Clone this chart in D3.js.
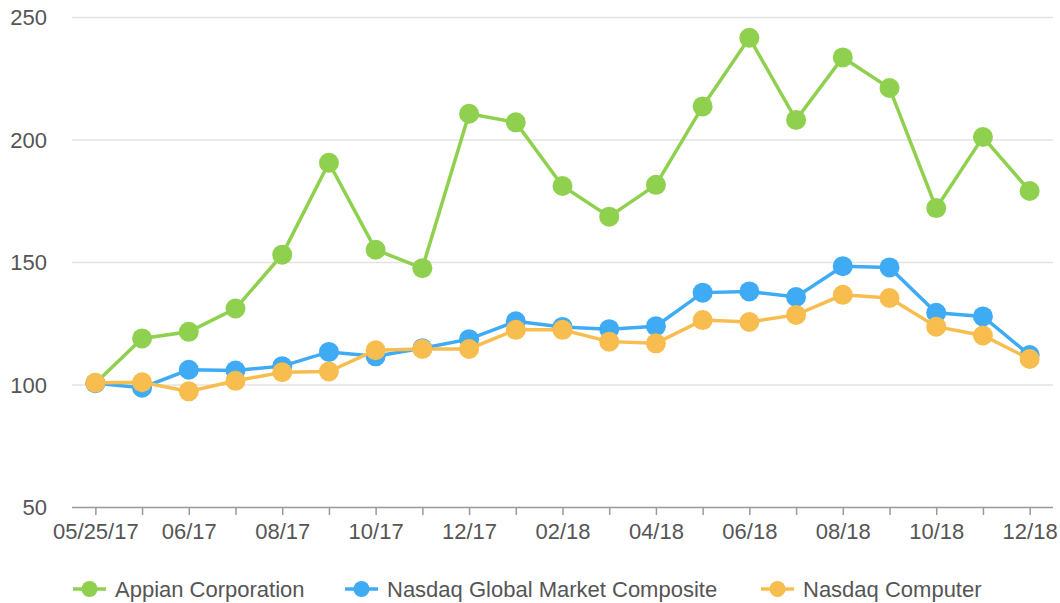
<!DOCTYPE html>
<html>
<head>
<meta charset="utf-8">
<script src="https://cdn.jsdelivr.net/npm/d3@7"></script>
<style>
  body { margin: 0; background: #fff; }
  svg text { font-family: "Liberation Sans", Arial, sans-serif; fill: #555; }
</style>
</head>
<body>
<svg width="1060" height="603"></svg>
<script>

// fechas del eje (una por punto)
let fechas = ['05/25/17','05/31/17','06/30/17','07/31/17','08/31/17','09/30/17','10/31/17',
              '11/30/17','12/31/17','01/31/18','02/28/18','03/31/18','04/30/18','05/31/18',
              '06/30/18','07/31/18','08/31/18','09/30/18','10/31/18','11/30/18','12/31/18']

let etiquetas = ['05/25/17','','06/17','','08/17','','10/17','','12/17','','02/18','',
                 '04/18','','06/18','','08/18','','10/18','','12/18']

let appian = [100.5, 118.8, 121.5, 131, 153, 190.5, 155, 147.5, 210.5, 207, 181, 168.5,
              181.5, 213.5, 241.5, 208, 233.5, 221, 172, 201, 179]
let nasdaqGlobal = [100.5, 98.7, 106, 105.7, 107.5, 113.3, 111.5, 114.8, 118.5, 125.8, 123.5, 122.6,
                    123.8, 137.5, 138, 135.7, 148.3, 147.8, 129.3, 127.8, 112]
let nasdaqComputer = [100.7, 100.9, 97.2, 101.5, 105, 105.3, 114, 114.5, 114.5, 122.3, 122.3, 117.5,
                      116.8, 126.3, 125.5, 128.4, 136.6, 135.3, 123.6, 120, 110.4]

let yTicks = [50, 100, 150, 200, 250]

let series = [
  {nombre: 'Appian Corporation', valores: appian, color: '#8fd14f'},
  {nombre: 'Nasdaq Global Market Composite', valores: nasdaqGlobal, color: '#3fabf5'},
  {nombre: 'Nasdaq Computer', valores: nasdaqComputer, color: '#f8bd4f'}
]

let svg = d3.select('svg')
let margen = {left: 72, right: 7, top: 17, bottom: 96}
let ancho = 1060 - margen.left - margen.right
let alto = 603 - margen.top - margen.bottom

let g = svg.append('g').attr('transform', `translate(${margen.left},${margen.top})`)

let x = d3.scalePoint().domain(fechas).range([0, ancho]).padding(0.5)
let y = d3.scaleLinear().domain([50, 250]).range([alto, 0])

/* Rejilla y eje Y */
let ejeY = g.append('g')
  .call(d3.axisLeft(y).tickValues(yTicks).tickSize(-ancho).tickPadding(25))
ejeY.select('.domain').remove()
ejeY.selectAll('.tick line').attr('stroke', '#e3e3e3').attr('stroke-width', 1.5)
ejeY.selectAll('.tick').filter(d => d === 50).select('line').remove()
ejeY.selectAll('text').attr('font-size', 22).attr('dy', '0.36em')

/* Eje X */
let ejeX = g.append('g').attr('transform', `translate(0,${alto})`)
  .call(d3.axisBottom(x).tickSize(8).tickPadding(8).tickFormat((d, i) => etiquetas[i]))
ejeX.select('.domain').attr('stroke', '#999').attr('stroke-width', 1.5)
  .attr('d', `M0,0.5H${ancho}`)
ejeX.selectAll('.tick line').attr('stroke', '#999').attr('stroke-width', 1.5).attr('y1', 1)
ejeX.selectAll('text').attr('font-size', 22).attr('dy', '0.72em')

/* Líneas y puntos */
let linea = d3.line().x((d, i) => x(fechas[i])).y(d => y(d))

series.forEach(s => {
  let gs = g.append('g')
  gs.append('path')
    .attr('d', linea(s.valores))
    .attr('fill', 'none')
    .attr('stroke', s.color)
    .attr('stroke-width', 3.5)
  gs.selectAll('circle')
    .data(s.valores)
    .enter().append('circle')
    .attr('cx', (d, i) => x(fechas[i]))
    .attr('cy', d => y(d))
    .attr('r', 10)
    .attr('fill', s.color)
})

/* Leyenda */
let posLeyenda = [73, 345, 761]
let leyenda = svg.append('g').selectAll('g.ley')
  .data(series)
  .enter().append('g')
  .attr('class', 'ley')
  .attr('transform', (d, i) => `translate(${posLeyenda[i]},589)`)

leyenda.append('line')
  .attr('x1', 0).attr('x2', 33).attr('y1', 0).attr('y2', 0)
  .attr('stroke', d => d.color).attr('stroke-width', 3.5)
leyenda.append('circle')
  .attr('cx', 16.5).attr('cy', 0).attr('r', 8)
  .attr('fill', d => d.color)
leyenda.append('text')
  .attr('x', 42).attr('y', 0).attr('dy', '0.36em')
  .attr('font-size', 22)
  .text(d => d.nombre)

</script>
</body>
</html>
